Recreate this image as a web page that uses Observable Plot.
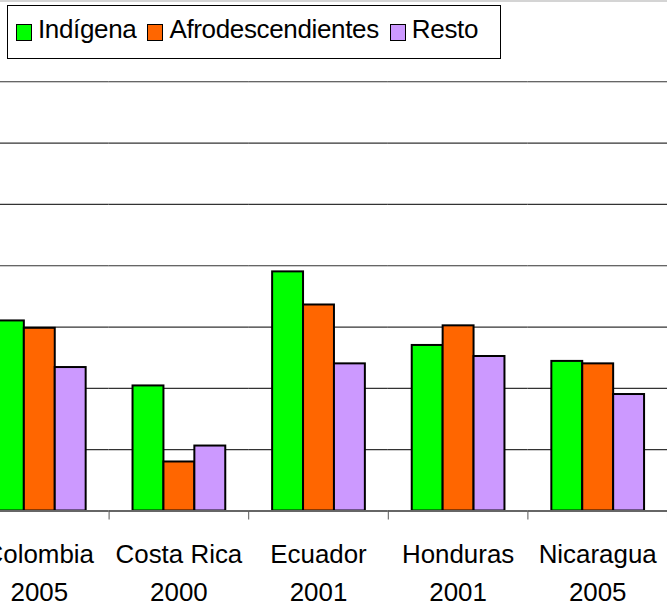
<!DOCTYPE html>
<html>
<head>
<meta charset="utf-8">
<script src="https://cdn.jsdelivr.net/npm/d3@7"></script>
<script src="https://cdn.jsdelivr.net/npm/@observablehq/plot@0.6"></script>
<style>
  html, body { margin: 0; padding: 0; background: #fff; }
  #wrap { position: relative; width: 667px; height: 607px; overflow: hidden; font-family: "Liberation Sans", Arial, sans-serif; }
  #topline { position: absolute; left: 0; top: 0; width: 667px; height: 2px; background: #d4d4d4; }
  #chart { position: absolute; left: -31px; top: 0; }
  #legend { position: absolute; left: 7px; top: 5px; width: 484px; height: 52px; border: 1px solid #000; background: #fff;
            display: flex; align-items: center; padding-left: 8px; box-sizing: content-box; }
  .item { display: flex; align-items: center; margin-right: 11px; }
  .sw { width: 14px; height: 15px; border: 1.5px solid #000; margin-right: 6px; }
  .lab { font-size: 26px; letter-spacing: -0.35px; color: #000; position: relative; top: -3px; }
</style>
</head>
<body>
<div id="wrap">
  <div id="topline"></div>
  <div id="chart"></div>
  <div id="legend"></div>
</div>
<script>
// ---- data ----
const countries = ["Colombia", "Costa Rica", "Ecuador", "Honduras", "Nicaragua"];
const years = ["2005", "2000", "2001", "2001", "2005"];
const series = ["Indígena", "Afrodescendientes", "Resto"];
const colors = ["#00ff00", "#ff6600", "#cc99ff"];
const indigena = [15.5, 10.2, 19.5, 13.5, 12.2];
const afro = [14.9, 4.0, 16.8, 15.1, 12.0];
const resto = [11.7, 5.3, 12.0, 12.6, 9.5];
const yTicks = [0, 5, 10, 15, 20, 25, 30, 35];

// ---- table ----
const valuesBySeries = [indigena, afro, resto];
const data = [];
countries.forEach((c, i) => {
  series.forEach((s, j) => data.push({country: c, series: s, value: valuesBySeries[j][i]}));
});
const yearOf = new Map(countries.map((c, i) => [c, years[i]]));

const W = 700, H = 607;
const step = W / countries.length;

const chart = Plot.plot({
  width: W,
  height: H,
  marginLeft: 0,
  marginRight: 0,
  marginTop: 81.5,
  marginBottom: 95,
  style: {fontFamily: "'Liberation Sans', Arial, sans-serif", background: "transparent", overflow: "visible"},
  fx: {domain: countries, padding: 0, axis: null, label: null},
  x: {domain: series, paddingInner: 0, paddingOuter: 0.72, axis: null},
  y: {domain: [0, 35], axis: null},
  color: {domain: series, range: colors},
  marks: [
    Plot.ruleY(yTicks.filter(v => v > 0), {stroke: "#333", strokeWidth: 1.2}),
    Plot.barY(data, {fx: "country", x: "series", y: "value", fill: "series", stroke: "#000", strokeWidth: 2}),
    Plot.ruleY([0], {stroke: "#666", strokeWidth: 2}),
    Plot.axisFx({anchor: "bottom", tickSize: 9, tickFormat: () => "", dx: step / 2, stroke: "#555", label: null}),
    Plot.axisFx({anchor: "bottom", tickSize: 0, tickPadding: 24.5, fontSize: 26, lineHeight: 1.48,
                 tickFormat: d => `${d}\n${yearOf.get(d)}`, fill: "#000", label: null})
  ]
});
document.getElementById("chart").appendChild(chart);

// ---- legend ----
const legend = document.getElementById("legend");
series.forEach((s, i) => {
  const item = document.createElement("div");
  item.className = "item";
  const sw = document.createElement("div");
  sw.className = "sw";
  sw.style.background = colors[i];
  const lab = document.createElement("span");
  lab.className = "lab";
  lab.textContent = s;
  item.appendChild(sw);
  item.appendChild(lab);
  legend.appendChild(item);
});
</script>
</body>
</html>
